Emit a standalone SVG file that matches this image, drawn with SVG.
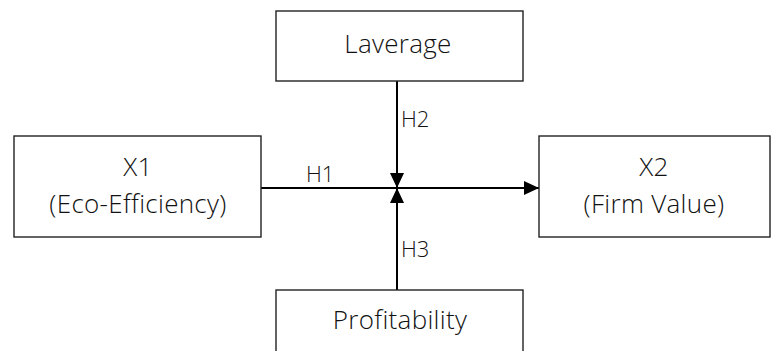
<svg xmlns="http://www.w3.org/2000/svg" width="772" height="351" viewBox="0 0 772 351">
<style>
.box{fill:#fff;stroke:#222;stroke-width:1.4}
.t{font-family:"Open Sans","Noto Sans",sans-serif;font-weight:300;font-size:26px;letter-spacing:0.3px;fill:#111;text-anchor:middle}
.h{font-family:"Open Sans","Noto Sans",sans-serif;font-weight:300;font-size:22px;fill:#111}
.ln{stroke:#000;stroke-width:2;fill:none}
</style>
<defs>
<marker id="arr" viewBox="0 0 15 14" refX="15" refY="7" markerWidth="15" markerHeight="14" markerUnits="userSpaceOnUse" orient="auto">
<path d="M0,0 L15,7 L0,14 Z" fill="#000"/>
</marker>
</defs>
<rect width="772" height="351" fill="#fff"/>
<g id="connectors">
<line class="ln" x1="261" y1="188" x2="539" y2="188" marker-end="url(#arr)"/>
<line class="ln" x1="397" y1="81" x2="397" y2="188" marker-end="url(#arr)"/>
<line class="ln" x1="397" y1="290" x2="397" y2="188" marker-end="url(#arr)"/>
<text class="h" x="306" y="182">H1</text>
<text class="h" x="401" y="127">H2</text>
<text class="h" x="401" y="257">H3</text>
</g>
<g id="laverage">
<rect class="box" x="276" y="11" width="247" height="70"/>
<text class="t" x="398" y="53">Laverage</text>
</g>
<g id="x1">
<rect class="box" x="14" y="136" width="247" height="101"/>
<text class="t" x="138" y="176">X1</text>
<text class="t" x="138" y="213">(Eco-Efficiency)</text>
</g>
<g id="x2">
<rect class="box" x="539" y="136" width="231" height="101"/>
<text class="t" x="654" y="176">X2</text>
<text class="t" x="654" y="213">(Firm Value)</text>
</g>
<g id="profitability">
<rect class="box" x="276" y="290" width="247" height="70"/>
<text class="t" x="400" y="329">Profitability</text>
</g>
</svg>
